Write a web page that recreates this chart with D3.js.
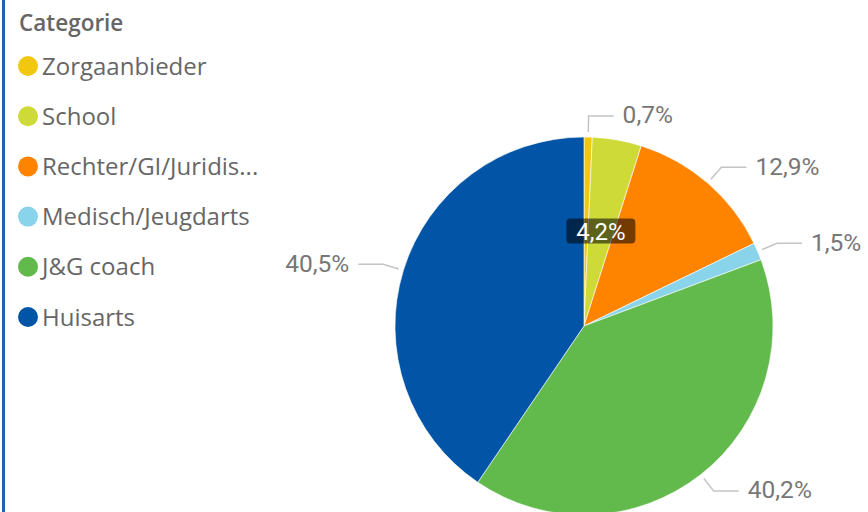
<!DOCTYPE html>
<html><head><meta charset="utf-8">
<script src="https://cdn.jsdelivr.net/npm/d3@7"></script>
<style>body{margin:0;background:#fff;overflow:hidden}</style>
</head><body>
<svg id="c" width="868" height="512"></svg>
<script>
const categories = ["Zorgaanbieder","School","Rechter/GI/Juridisch","Medisch/Jeugdarts","J&G coach","Huisarts"];
const legendLabels = ["Zorgaanbieder","School","Rechter/GI/Juridis...","Medisch/Jeugdarts","J&G coach","Huisarts"];
const values = [0.7, 4.2, 12.9, 1.5, 40.2, 40.5];
const valueLabels = ["0,7%","4,2%","12,9%","1,5%","40,2%","40,5%"];
const colors = ["#F1C80F","#CDDA38","#FE8400","#8AD4EB","#62B94C","#0254A6"];
const legendTitle = "Categorie";

const svg = d3.select("#c");
svg.append("rect").attr("x",2).attr("y",0).attr("width",3).attr("height",512).attr("fill","#1E62B6");

// legend
svg.append("text").attr("x",19).attr("y",31).text(legendTitle)
  .attr("font-family","Open Sans, Noto Sans, sans-serif").attr("font-weight",600)
  .attr("font-size",22.5).attr("fill","#666");
const lg = svg.append("g");
legendLabels.forEach((l,i)=>{
  const y = 66 + i*50.2;
  lg.append("circle").attr("cx",28).attr("cy",y).attr("r",10).attr("fill",colors[i]);
  lg.append("text").attr("x",42).attr("y",y).attr("dy","0.36em").text(l)
    .attr("font-family","Open Sans, Noto Sans, sans-serif").attr("font-size",24).attr("fill","#666");
});

// pie
const cx = 584, cy = 326, r = 189;
const pie = d3.pie().sort(null).value(d=>d);
const arcs = pie(values);
const arc = d3.arc().innerRadius(0).outerRadius(r);
const g = svg.append("g").attr("transform",`translate(${cx},${cy})`);
g.selectAll("path").data(arcs).join("path").attr("d",arc)
  .attr("fill",(d,i)=>colors[i]).attr("stroke","#fff").attr("stroke-width",0.6);

const pt = (a,rad)=>[Math.sin(a)*rad, -Math.cos(a)*rad];
const labelFont = "Roboto, DejaVu Sans, sans-serif";
arcs.forEach((d,i)=>{
  const a = (d.startAngle+d.endAngle)/2;
  if (i===1) {
    const p = pt(a, r*0.51);
    const w = 69, h = 25;
    g.append("rect").attr("x",p[0]-w/2).attr("y",p[1]-h/2).attr("width",w).attr("height",h)
      .attr("rx",4).attr("fill","#000").attr("fill-opacity",0.55);
    g.append("text").attr("x",p[0]).attr("y",p[1]).attr("dy","0.36em").attr("text-anchor","middle")
      .text(valueLabels[i]).attr("font-family",labelFont).attr("font-size",24).attr("fill","#fff");
    return;
  }
  const p1 = pt(a, r+5), p2 = pt(a, r+21);
  const right = Math.sin(a) >= 0;
  const p3 = [p2[0] + (right?25:-25), p2[1]];
  g.append("polyline").attr("points",[p1,p2,p3].map(p=>p.join(",")).join(" "))
    .attr("fill","none").attr("stroke","#c4c4c4").attr("stroke-width",1.5);
  g.append("text").attr("x",p3[0]+(right?9:-9)).attr("y",p3[1]).attr("dy","0.3em")
    .attr("text-anchor",right?"start":"end").text(valueLabels[i])
    .attr("font-family",labelFont).attr("font-size",24.5).attr("fill","#777");
});
</script>
</body></html>
